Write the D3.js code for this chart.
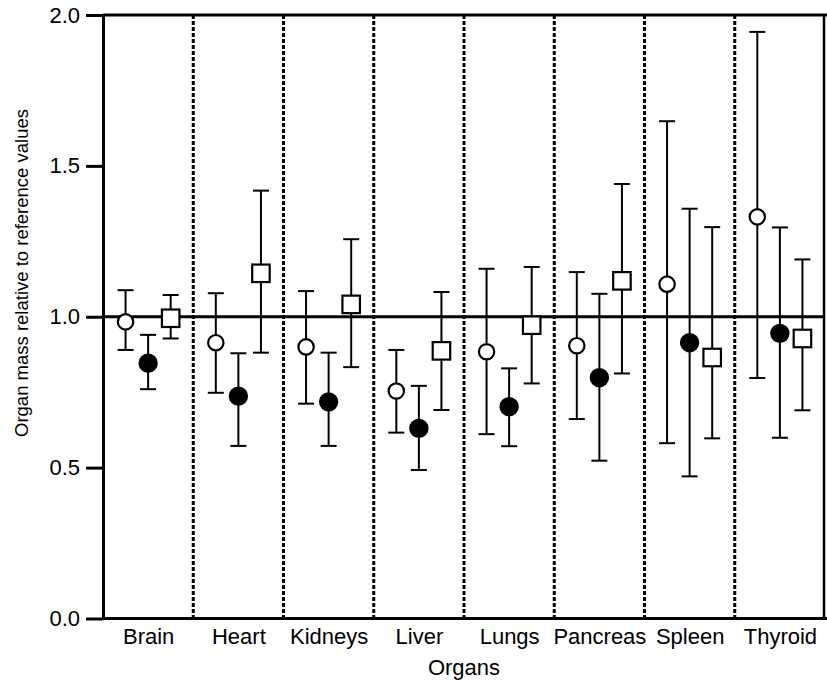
<!DOCTYPE html>
<html><head><meta charset="utf-8">
<script src="https://cdn.jsdelivr.net/npm/d3@7"></script>
<style>body{margin:0;background:#fff;} svg{display:block;font-family:"Liberation Sans",Arial,sans-serif;}</style>
</head><body><svg id="c" width="827" height="685"></svg>
<script>
const organs = ["Brain","Heart","Kidneys","Liver","Lungs","Pancreas","Spleen","Thyroid"];
const yTicks = [0, 0.5, 1.0, 1.5, 2.0];
const referenceValue = 1.0;
// series 1: open circles
const openMean = [0.983,0.914,0.900,0.754,0.884,0.904,1.108,1.331];
const openLow  = [0.890,0.748,0.712,0.616,0.611,0.661,0.581,0.797];
const openHigh = [1.088,1.078,1.085,0.890,1.159,1.148,1.648,1.944];
// series 2: filled circles
const filledMean = [0.846,0.737,0.718,0.630,0.702,0.798,0.914,0.945];
const filledLow  = [0.760,0.572,0.572,0.492,0.571,0.523,0.471,0.599];
const filledHigh = [0.940,0.879,0.881,0.771,0.829,1.076,1.358,1.296];
// series 3: open squares
const squareMean = [0.995,1.144,1.041,0.887,0.972,1.119,0.865,0.928];
const squareLow  = [0.928,0.881,0.833,0.691,0.779,0.812,0.597,0.690];
const squareHigh = [1.072,1.418,1.257,1.082,1.165,1.440,1.297,1.190];

const series = [
  {mean: openMean, low: openLow, high: openHigh, shape: "circle", fill: "#fff", offset: -0.25},
  {mean: filledMean, low: filledLow, high: filledHigh, shape: "circle", fill: "#000", offset: 0},
  {mean: squareMean, low: squareLow, high: squareHigh, shape: "square", fill: "#fff", offset: 0.25}
];

const svg = d3.select("#c");
const m = {left: 103, top: 15, right: 2, bottom: 66.5};
const W = 827, H = 685;
const x = d3.scaleLinear().domain([0.5, organs.length + 0.5]).range([m.left, W - m.right]);
const y = d3.scaleLinear().domain([0, 2]).range([H - m.bottom, m.top]);

// dividers
const dividers = d3.range(1.5, organs.length, 1);
svg.append("g").selectAll("line").data(dividers).join("line")
  .attr("x1", d => x(d)).attr("x2", d => x(d))
  .attr("y1", y(2)).attr("y2", y(0))
  .attr("stroke", "#000").attr("stroke-width", 3).attr("stroke-dasharray", "4,2");

// reference line
svg.append("line")
  .attr("x1", x(0.5)).attr("x2", x(organs.length + 0.5))
  .attr("y1", y(referenceValue)).attr("y2", y(referenceValue))
  .attr("stroke", "#000").attr("stroke-width", 3);

// frame: top and right
svg.append("line").attr("x1", x(0.5)).attr("x2", W).attr("y1", y(2)).attr("y2", y(2))
  .attr("stroke", "#000").attr("stroke-width", 3);
svg.append("line").attr("x1", x(organs.length + 0.5) - 1).attr("x2", x(organs.length + 0.5) - 1)
  .attr("y1", y(2)).attr("y2", y(0)).attr("stroke", "#000").attr("stroke-width", 2.5);

// axes
const yAxis = svg.append("g").attr("transform", `translate(${m.left},0)`)
  .call(d3.axisLeft(y).tickValues(yTicks).tickFormat(d3.format(".1f")).tickSize(17).tickSizeOuter(0).tickPadding(6));
yAxis.select(".domain").attr("stroke-width", 3);
yAxis.selectAll(".tick line").attr("stroke-width", 3);
yAxis.selectAll("text").attr("font-size", 22).attr("fill", "#000").attr("font-family", "Liberation Sans, Arial, sans-serif");

const xAxis = svg.append("g").attr("transform", `translate(0,${y(0)})`)
  .call(d3.axisBottom(x).tickValues(d3.range(1, organs.length + 1)).tickFormat((d) => organs[d - 1]).tickSize(0).tickSizeOuter(0).tickPadding(10));
xAxis.select(".domain").attr("d", `M${m.left},0H${W}`).attr("stroke-width", 3);
xAxis.selectAll("text").attr("font-size", 22).attr("fill", "#000").attr("font-family", "Liberation Sans, Arial, sans-serif");

// error bars and markers
const capHalf = 8;
series.forEach(s => {
  const g = svg.append("g");
  const data = organs.map((o, i) => ({i: i + 1, mean: s.mean[i], low: s.low[i], high: s.high[i]}));
  g.selectAll("line.v").data(data).join("line").attr("class", "v")
    .attr("x1", d => x(d.i + s.offset)).attr("x2", d => x(d.i + s.offset))
    .attr("y1", d => y(d.low)).attr("y2", d => y(d.high))
    .attr("stroke", "#000").attr("stroke-width", 2);
  ["low", "high"].forEach(k => {
    g.selectAll("line.c" + k).data(data).join("line").attr("class", "c" + k)
      .attr("x1", d => x(d.i + s.offset) - capHalf).attr("x2", d => x(d.i + s.offset) + capHalf)
      .attr("y1", d => y(d[k])).attr("y2", d => y(d[k]))
      .attr("stroke", "#000").attr("stroke-width", 2);
  });
  if (s.shape === "circle") {
    g.selectAll("circle").data(data).join("circle")
      .attr("cx", d => x(d.i + s.offset)).attr("cy", d => y(d.mean))
      .attr("r", s.fill === "#000" ? 8.6 : 7.7)
      .attr("fill", s.fill).attr("stroke", "#000").attr("stroke-width", 2.2);
  } else {
    const side = 17.5;
    g.selectAll("rect").data(data).join("rect")
      .attr("x", d => x(d.i + s.offset) - side / 2).attr("y", d => y(d.mean) - side / 2)
      .attr("width", side).attr("height", side)
      .attr("fill", s.fill).attr("stroke", "#000").attr("stroke-width", 2.2);
  }
});

// axis titles
svg.append("text").attr("x", (x(0.5) + x(organs.length + 0.5)) / 2).attr("y", 675)
  .attr("text-anchor", "middle").attr("font-size", 22).attr("fill", "#000").text("Organs");
svg.append("text").attr("transform", "rotate(-90)").attr("x", -273).attr("y", 28)
  .attr("text-anchor", "middle").attr("font-size", 18.5).attr("fill", "#000")
  .text("Organ mass relative to reference values");
</script>
</body></html>
